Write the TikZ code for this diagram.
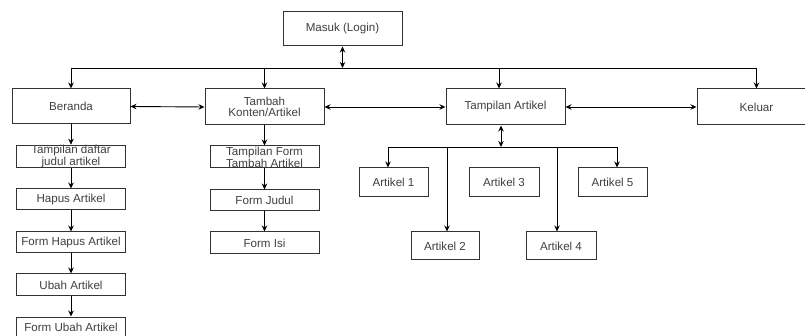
\documentclass[tikz,border=0pt]{standalone}
\usepackage{fontspec}
\setmainfont{Liberation Sans}
\usetikzlibrary{arrows.meta}
\begin{document}
\begin{tikzpicture}[x=1pt,y=-1pt,
  box/.style={draw=black!80, line width=1pt, fill=white, inner sep=0pt, align=center,
    text=black!75, font=\fontsize{11.6}{10.8}\selectfont},
  arr/.style={-{Stealth[length=6pt,width=5.5pt]}, line width=0.9pt},
  darr/.style={{Stealth[length=6pt,width=5.5pt]}-{Stealth[length=6pt,width=5.5pt]}, line width=0.9pt},
  lnk/.style={line width=0.9pt}]
\useasboundingbox (0,0) rectangle (805,336);
\clip (0,0) rectangle (805,336);
% top level
\node[box, minimum width=119, minimum height=34] (masuk) at (342.5,29) {Masuk (Login)};
\node[box, minimum width=118, minimum height=35] (beranda) at (71,106.5) {Beranda};
\node[box, minimum width=119, minimum height=36] (tambah) at (264.5,107) {Tambah\\Konten/Artikel};
\node[box, minimum width=119, minimum height=36] (tampil) at (505.5,107) {Tampilan Artikel};
\node[box, minimum width=119, minimum height=36] (keluar) at (756.5,107) {Keluar};
% Beranda column
\node[box, minimum width=109, minimum height=21] (daftar) at (71,156.5) {Tampilan daftar\\judul artikel};
\node[box, minimum width=109, minimum height=21] (hapus) at (71,199.5) {Hapus Artikel};
\node[box, minimum width=109, minimum height=21] (fhapus) at (71,242.5) {Form Hapus Artikel};
\node[box, minimum width=109, minimum height=22] (ubah) at (71,285) {Ubah Artikel};
\node[box, minimum width=109, minimum height=21] (fubah) at (71,327.5) {Form Ubah Artikel};
% Tambah column
\node[box, minimum width=109, minimum height=22] (tform) at (264.5,157) {Tampilan Form\\Tambah Artikel};
\node[box, minimum width=109, minimum height=21] (fjudul) at (264.5,200.5) {Form Judul};
\node[box, minimum width=109, minimum height=22] (fisi) at (264.5,243) {Form Isi};
% Artikel
\node[box, minimum width=69, minimum height=29] (a1) at (393.5,182.5) {Artikel 1};
\node[box, minimum width=68, minimum height=28] (a2) at (445,246) {Artikel 2};
\node[box, minimum width=70, minimum height=29] (a3) at (504,182.5) {Artikel 3};
\node[box, minimum width=70, minimum height=28] (a4) at (561,246) {Artikel 4};
\node[box, minimum width=69, minimum height=29] (a5) at (612.5,182.5) {Artikel 5};
% main bus
\coordinate (busB) at (71,68);
\coordinate (busT) at (264.5,68);
\coordinate (busA) at (499,68);
\coordinate (busK) at (756.5,68);
\draw[darr] (masuk.south) -- (masuk.south |- busB);
\draw[lnk] (busB) -- (busK);
\draw[arr] (busB) -- (beranda.north);
\draw[arr] (busT) -- (tambah.north);
\draw[arr] (busA) -- (busA |- tampil.north);
\draw[arr] (busK) -- (keluar.north);
% horizontal links
\draw[darr] (beranda.east) -- (tambah.west);
\draw[darr] (tambah.east) -- (tampil.west);
\draw[darr] (tampil.east) -- (keluar.west);
% columns
\draw[arr] (beranda.south) -- (daftar.north);
\draw[arr] (daftar.south) -- (hapus.north);
\draw[arr] (hapus.south) -- (fhapus.north);
\draw[arr] (fhapus.south) -- (ubah.north);
\draw[arr] (ubah.south) -- (fubah.north);
\draw[arr] (tambah.south) -- (tform.north);
\draw[arr] (tform.south) -- (fjudul.north);
\draw[arr] (fjudul.south) -- (fisi.north);
% artikel bus
\coordinate (sub) at (501,147);
\coordinate (s1) at (388,147);
\coordinate (s2) at (447,147);
\coordinate (s4) at (557,147);
\coordinate (s5) at (617,147);
\draw[darr] (tampil.south -| sub) -- (sub);
\draw[lnk] (s1) -- (s5);
\draw[arr] (s1) -- (s1 |- a1.north);
\draw[arr] (s2) -- (s2 |- a2.north);
\draw[arr] (s4) -- (s4 |- a4.north);
\draw[arr] (s5) -- (s5 |- a5.north);
\end{tikzpicture}
\end{document}
